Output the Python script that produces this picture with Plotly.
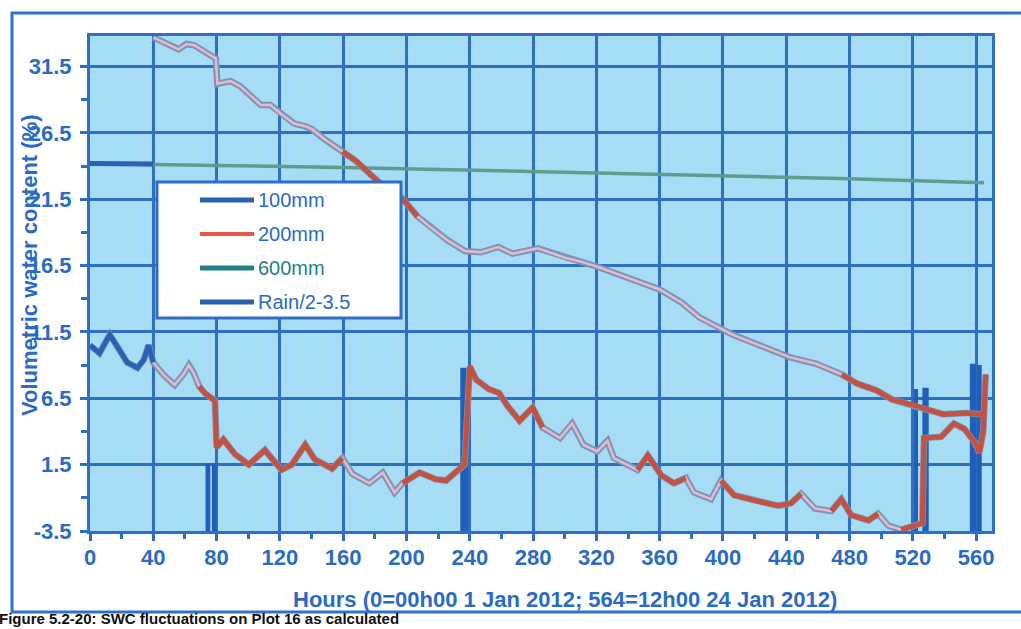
import numpy as np
import plotly.graph_objects as go

# ---- data -------------------------------------------------------------
# Soil water content (%) at 100 mm depth
hours_100 = [0, 6, 12.5, 17, 23.5, 30, 34, 37, 40, 47, 53.5, 59, 62.5, 65.5, 69, 72.5, 79, 80, 84.3,
             91.5, 100.4, 110.5, 121, 127.5, 136, 142, 153, 159.5, 165.8, 176.5, 185, 192.5, 197.5,
             208.3, 218.5, 225, 233.5, 236.7, 240, 244, 252, 258.5, 264, 271.5, 279.7, 286, 297,
             304.7, 311.8, 320.5, 327, 331, 346, 352.5, 361, 369, 376.5, 381.7, 392.5, 398.7, 407,
             420, 435, 443, 449.4, 458, 468.5, 474.8, 481, 492, 498, 504.5, 512.6, 520.8, 526, 527,
             537.8, 546, 552.5, 559, 562, 564.5, 566]
swc_100 = [10.5, 9.9, 11.3, 10.5, 9.2, 8.8, 9.4, 10.5, 9.2, 8.2, 7.5, 8.3, 9.0, 8.4, 7.4, 6.9, 6.3, 2.8, 3.4,
           2.3, 1.5, 2.6, 1.1, 1.5, 3.0, 1.9, 1.2, 2.0, 0.8, 0.1, 0.9, -0.6, 0.1,
           0.9, 0.4, 0.3, 1.2, 1.5, 8.9, 7.9, 7.2, 6.9, 5.9, 4.8, 5.8, 4.3, 3.5,
           4.6, 3.0, 2.5, 3.3, 2.0, 1.1, 2.2, 0.7, 0.1, 0.5, -0.6, -1.1, 0.3, -0.8,
           -1.2, -1.6, -1.4, -0.7, -1.8, -2.0, -1.1, -2.3, -2.7, -2.2, -3.1, -3.4, -3.1, -2.9, 3.5,
           3.6, 4.6, 4.2, 3.2, 2.4, 4.0, 8.3]

# Soil water content (%) at 200 mm depth
hours_200 = [40, 51, 56, 61, 66, 74, 79.5, 80.5, 89, 95, 108, 114, 121, 129, 136, 140, 148.5, 159.5,
             168, 177, 183.5, 190, 197, 207, 215, 226, 237, 247, 258, 267, 283, 300, 310, 321, 342,
             360, 374, 385, 406, 427, 442, 459, 475, 485, 497, 507, 520, 531, 539, 554, 562, 566]
swc_200 = [33.7, 33.1, 32.8, 33.2, 33.1, 32.5, 32.1, 30.2, 30.4, 30.0, 28.6, 28.6, 27.9, 27.2, 27.0, 26.8,
           26.0, 25.1, 24.4, 23.4, 22.7, 22.2, 21.6, 20.2, 19.4, 18.4, 17.6, 17.5, 17.9, 17.4, 17.8,
           17.1, 16.8, 16.4, 15.5, 14.7, 13.7, 12.6, 11.3, 10.3, 9.6, 9.1, 8.3, 7.6, 7.1, 6.4, 6.0,
           5.6, 5.3, 5.4, 5.3, 5.4]

# Soil water content (%) at 600 mm depth
hours_600 = [0, 40, 80, 160, 240, 320, 400, 480, 565]
swc_600 = [24.2, 24.15, 24.05, 23.9, 23.7, 23.5, 23.3, 23.05, 22.75]

# Rainfall events (mm), plotted as Rain/2 - 3.5
rain_hours = [74.5, 78.5, 236.5, 522, 528, 558, 562]
rain_mm = [10.2, 10.2, 24.6, 21.4, 21.6, 25.2, 25.0]

x_ticks = list(range(0, 561, 40))
y_ticks = [-3.5, 1.5, 6.5, 11.5, 16.5, 21.5, 26.5, 31.5]
y_tick_labels = [f"{v}" for v in y_ticks]

# ---- styling ----------------------------------------------------------
W, H = 1021, 629
PX_L, PX_R, PX_T, PX_B = 90, 992, 36, 531
GRID = "#2f6fc2"
TXT = "#2b6bc3"
BG = "#a7dcf5"
RED = "#c4523e"
HALO = "#7b93bd"
PINK = "#e6bcc4"
FONT = "Arial, Liberation Sans, sans-serif"

rain_bar_width = [3.0, 3.0, 5.0, 2.5, 4.0, 4.0, 3.0]
red_100 = [(69, 160), (195, 290), (340, 378), (395, 455), (468, 502), (512, 567)]
red_200 = [(155, 186), (195, 210), (465, 567)]
blue_100 = [(0, 40)]
blue_600 = [(0, 40)]


def px_x(px):
    return (px - PX_L) / (PX_R - PX_L)


def px_y(py):
    return (PX_B - py) / (PX_B - PX_T)


def pick(xs, ys, ranges):
    """Keep only the points inside the given hour ranges (others become gaps)."""
    out = []
    for x, y in zip(xs, ys):
        out.append(y if any(a <= x <= b for a, b in ranges) else None)
    return out


fig = go.Figure()

# deep probe
fig.add_trace(go.Scatter(x=hours_600, y=swc_600, mode="lines",
                         line=dict(color="#5e9c8c", width=3.5), hoverinfo="skip"))
fig.add_trace(go.Scatter(x=hours_600, y=pick(hours_600, swc_600, blue_600), mode="lines",
                         line=dict(color="#2a62b3", width=5), connectgaps=False))

# rain bars
fig.add_trace(go.Bar(x=rain_hours, y=np.array(rain_mm) / 2.0, base=-3.5, width=rain_bar_width,
                     marker=dict(color="#1f5fb8", line=dict(width=0))))

# 100 mm and 200 mm curves: outlined pale line with highlighted stretches
for xs, ys in ((hours_200, swc_200), (hours_100, swc_100)):
    fig.add_trace(go.Scatter(x=xs, y=ys, mode="lines", line=dict(color=HALO, width=6.5)))
    fig.add_trace(go.Scatter(x=xs, y=ys, mode="lines", line=dict(color=PINK, width=2.5)))

fig.add_trace(go.Scatter(x=hours_200, y=pick(hours_200, swc_200, red_200), mode="lines",
                         line=dict(color=RED, width=5), connectgaps=False))
fig.add_trace(go.Scatter(x=hours_100, y=pick(hours_100, swc_100, red_100), mode="lines",
                         line=dict(color=RED, width=5), connectgaps=False))
fig.add_trace(go.Scatter(x=hours_100, y=pick(hours_100, swc_100, blue_100), mode="lines",
                         line=dict(color="#2a62b3", width=5), connectgaps=False))

axis_common = dict(
    showgrid=True, gridcolor=GRID, gridwidth=3,
    showline=True, linecolor=GRID, linewidth=3, mirror=True,
    ticks="outside", ticklen=7, tickwidth=3, tickcolor=GRID,
    tickfont=dict(family=FONT, size=22, color=TXT, weight="bold"),
    zeroline=False,
)

fig.update_xaxes(range=[0, 570], tickmode="array", tickvals=x_ticks,
                 minor=dict(dtick=20, tick0=0, ticklen=5, tickwidth=3, tickcolor=GRID, showgrid=False),
                 ticklabelstandoff=-2, **axis_common)
fig.update_yaxes(range=[-3.5, 33.8], tickmode="array", tickvals=y_ticks, ticktext=y_tick_labels,
                 minor=dict(tickmode="array", tickvals=[v + 2.5 for v in y_ticks],
                            ticklen=6, tickwidth=3, tickcolor=GRID, showgrid=False),
                 ticklabelstandoff=4, **axis_common)

shapes = []
annotations = []

# outer frame of the chart panel
shapes.append(dict(type="rect", xref="paper", yref="paper",
                   x0=px_x(12), x1=px_x(1040), y0=px_y(612), y1=px_y(13),
                   line=dict(color="#2f72c4", width=3), fillcolor="rgba(0,0,0,0)", layer="below"))

# legend box
LX0, LX1, LY0, LY1 = 157, 401, 182, 318
shapes.append(dict(type="rect", xref="paper", yref="paper",
                   x0=px_x(LX0), x1=px_x(LX1), y0=px_y(LY1), y1=px_y(LY0),
                   line=dict(color=GRID, width=3), fillcolor="white", layer="above"))
legend_items = [
    ("100mm", "#2a62b3", TXT, 5),
    ("200mm", "#e8574a", TXT, 4),
    ("600mm", "#23808a", "#1f7f86", 5),
    ("Rain/2-3.5", "#2a62b3", TXT, 5),
]
for i, (label, lc, tc, lw) in enumerate(legend_items):
    yy = 200 + i * 34
    shapes.append(dict(type="line", xref="paper", yref="paper",
                       x0=px_x(200), x1=px_x(254), y0=px_y(yy), y1=px_y(yy),
                       line=dict(color=lc, width=lw), layer="above"))
    annotations.append(dict(xref="paper", yref="paper", x=px_x(256), y=px_y(yy),
                            xanchor="left", yanchor="middle", showarrow=False, text=label,
                            font=dict(family=FONT, size=20, color=tc)))

# axis titles
annotations.append(dict(xref="paper", yref="paper", x=px_x(565), y=px_y(599),
                        xanchor="center", yanchor="middle", showarrow=False,
                        text="Hours (0=00h00 1 Jan 2012; 564=12h00 24 Jan 2012)",
                        font=dict(family=FONT, size=22, color=TXT, weight="bold")))
annotations.append(dict(xref="paper", yref="paper", x=px_x(29), y=px_y(265),
                        xanchor="center", yanchor="middle", showarrow=False, textangle=-90,
                        text="Volumetric water content (%)",
                        font=dict(family=FONT, size=22, color=TXT, weight="bold")))

# figure caption
annotations.append(dict(xref="paper", yref="paper", x=px_x(-3), y=px_y(629),
                        xanchor="left", yanchor="bottom", showarrow=False,
                        text="Figure 5.2-20: SWC fluctuations on Plot 16 as calculated",
                        font=dict(family=FONT, size=15, color="#111111", weight="bold")))

fig.update_layout(
    width=W, height=H,
    margin=dict(l=PX_L, r=W - PX_R, t=PX_T, b=H - PX_B, pad=0),
    paper_bgcolor="white", plot_bgcolor=BG,
    showlegend=False, barmode="overlay",
    shapes=shapes, annotations=annotations,
)

fig.write_html("out.html")
